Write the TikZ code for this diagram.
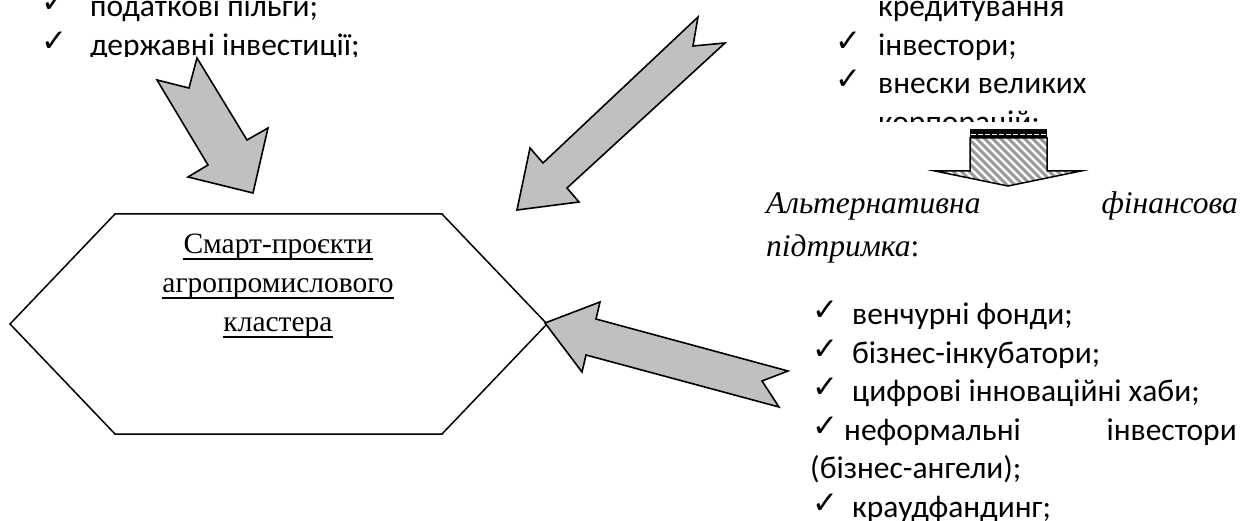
\documentclass[tikz,border=0pt]{standalone}
\usepackage{fontspec}
\newfontfamily\calfont{Carlito}
\newfontfamily\serfont{Liberation Serif}
\newfontfamily\chkfont{DejaVu Sans}
\definecolor{arrowgray}{HTML}{C0C0C0}
\definecolor{stripegray}{HTML}{9A9A9A}
\begin{document}
\begin{tikzpicture}[x=1pt,y=-1pt,
  garrow/.style={fill=arrowgray, draw=black, line width=1.6pt, line join=miter},
  listtxt/.style={anchor=base west, inner sep=0pt, font=\calfont\fontsize{31.5}{38}\selectfont},
  chk/.style={anchor=base west, inner sep=0pt, font=\chkfont\fontsize{31}{31}\selectfont},
  hextxt/.style={anchor=base, inner sep=0pt, font=\serfont\fontsize{29.5}{36}\selectfont},
  ittxt/.style={inner sep=0pt, font=\serfont\fontsize{31.5}{38}\selectfont},
  uline/.style={line width=1.5pt},
]
\useasboundingbox (0,0) rectangle (1240,521);
\clip (0,0) rectangle (1240,521);
\fill[white] (0,0) rectangle (1240,521);

% hexagon
\draw[line width=1.5pt, fill=white] (10,324) -- (115,214) -- (442,214) -- (547,324) -- (442,434) -- (115,434) -- cycle;
\node[hextxt] (h1) at (278,254) {Смарт-проєкти};
\node[hextxt] (h2) at (278,293) {агропромислового};
\node[hextxt] (h3) at (278,332) {кластера};
\foreach \n in {h1,h2,h3}{
  \draw[uline] ([yshift=-5pt]\n.base west) -- ([yshift=-5pt]\n.base east);
}

% top-left list (clipped box)
\begin{scope}
\clip (0,0) rectangle (460,56.5);
\node[chk] (c1) at (41,13) {✓};
\node[listtxt] (t1) at (90,17) {податкові пільги;};
\node[chk] (c2) at (41,51.5) {✓};
\node[listtxt] (t2) at (90,55.5) {державні інвестиції;};
\end{scope}

% top-right list (clipped box)
\begin{scope}
\clip (760,0) rectangle (1240,122);
\node[listtxt] (r0) at (878,17) {кредитування};
\node[chk] (rc1) at (835,51.5) {✓};
\node[listtxt] (r1) at (878,55.5) {інвестори;};
\node[chk] (rc2) at (835,90) {✓};
\node[listtxt] (r2) at (878,94) {внески великих};
\node[listtxt] (r3) at (878,132.5) {корпорацій;};
\end{scope}

% gray block arrows
\draw[garrow] (157,80) -- (189,88) -- (197,58) -- (247,140) -- (268,128) -- (253,193) -- (188,177) -- (208,165) -- cycle;
\draw[garrow] (698,17) -- (693,46) -- (725,43) -- (567,188) -- (579,202) -- (517,210) -- (530,148) -- (543,163) -- cycle;
\draw[garrow] (545,323) -- (600,302) -- (596,319) -- (788,371) -- (762,381) -- (779,407) -- (586,355) -- (582,372) -- cycle;

% striped down arrow
\begin{scope}
\clip (970,138) -- (1047,138) -- (1047,171) -- (1081,171) -- (1008,186) -- (935,171) -- (970,171) -- cycle;
\fill[white] (930,130) rectangle (1090,190);
\foreach \k in {0,...,30}{
  \draw[stripegray, line width=3pt] (880+8*\k,130) -- (940+8*\k,190);
}
\end{scope}
\draw[line width=1.5pt, line join=miter] (970,138) -- (1047,138) -- (1047,171) -- (1081,171) -- (1008,186) -- (935,171) -- (970,171) -- cycle;
\fill[black] (970,129) rectangle (1047,138);
\draw[white, line width=1pt, dash pattern=on 5pt off 2pt] (971,135) -- (1046,135);

% italic heading
\node[ittxt, anchor=base west] (a1) at (766,214) {\itshape Альтернативна};
\node[ittxt, anchor=base east] (a2) at (1238,214) {\itshape фінансова};
\node[ittxt, anchor=base west] (a3) at (766,257) {\textit{підтримка}:};

% bottom-right list
\node[chk] (bc1) at (812,321) {✓};
\node[listtxt] (b1) at (852,325) {венчурні фонди;};
\node[chk] (bc2) at (812,359.4) {✓};
\node[listtxt] (b2) at (852,363.4) {бізнес-інкубатори;};
\node[chk] (bc3) at (812,397.8) {✓};
\node[listtxt] (b3) at (852,401.8) {цифрові інноваційні хаби;};
\node[chk] (bc4) at (812,436.2) {✓};
\node[listtxt] (b4) at (844,440.2) {неформальні};
\node[listtxt, anchor=base east] (b4b) at (1237,440.2) {інвестори};
\node[listtxt] (b5) at (810,478.6) {(бізнес-ангели);};
\node[chk] (bc6) at (812,513) {✓};
\node[listtxt] (b6) at (852,517) {краудфандинг;};
\end{tikzpicture}
\end{document}
